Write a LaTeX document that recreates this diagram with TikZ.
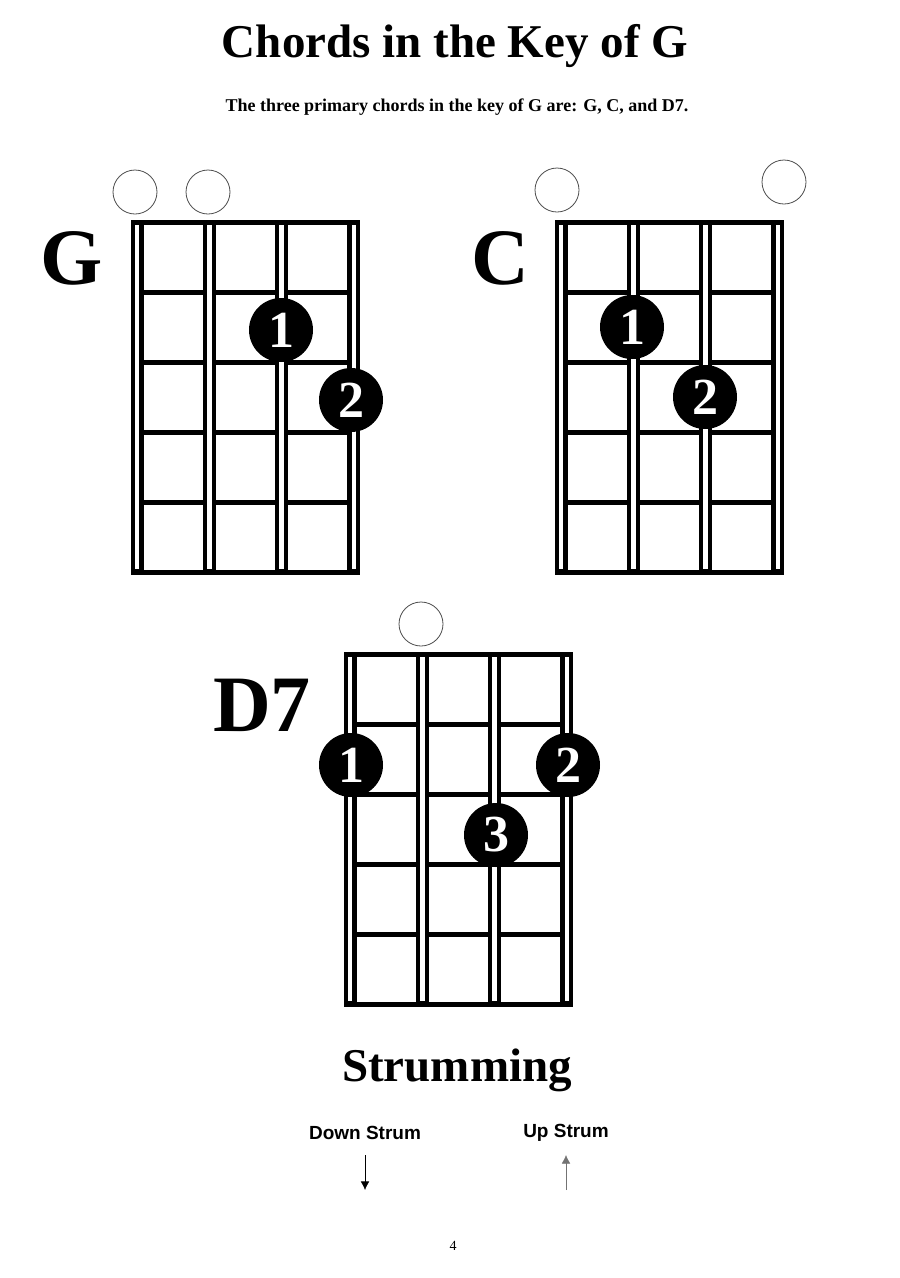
\documentclass[tikz,border=0pt]{standalone}
\usepackage{fontspec}
\setmainfont{Liberation Serif}
\newfontfamily\strumfont{Liberation Sans}
\usetikzlibrary{positioning}
\usetikzlibrary{arrows.meta}
\tikzset{>={Latex[width=2mm,length=2mm]}}

\begin{document}
\begin{tikzpicture}[x=1pt, y=-1pt,
    finger/.style={circle, fill=black, inner sep=0pt, minimum size=64pt, text=white, font=\bfseries\fontsize{52}{52}\selectfont},
    openstr/.style={circle, draw=black!70, thick, fill=white, inner sep=0pt, minimum size=44pt},
    chordname/.style={font=\bfseries\fontsize{80}{80}\selectfont, anchor=center},
    fretline/.style={line width=5pt},
    strumlabel/.style={font=\strumfont\bfseries\fontsize{19}{19}\selectfont}]

    \useasboundingbox (0,0) rectangle (900,1278);

    %Titles
    \node[font=\bfseries\fontsize{47}{47}\selectfont](title) at (455,46){Chords in the Key of G};
    \node[font=\bfseries\fontsize{18}{18}\selectfont](subtitle) at (457,107){The three primary chords in the key of G are: G, C, and D7.};

    %Grids
    \foreach \gx/\gy in {137/222, 561/222, 350/654}{
        \foreach \f in {0,...,5}
            \draw[fretline] (\gx-6,\gy+\f*70) -- (\gx+223,\gy+\f*70);
        \foreach \s in {0,...,3}{
            \draw[line width=13pt] (\gx+\s*72.3,\gy-2) -- (\gx+\s*72.3,\gy+352);
            \draw[line width=4.5pt, white] (\gx+\s*72.3,\gy+3) -- (\gx+\s*72.3,\gy+347);
        }
    }

    %Chord names
    \node[chordname](gname) at (72,258){G};
    \node[chordname](cname) at (500,258){C};
    \node[chordname](dname) at (262,705){D7};

    %Open strings
    \node[openstr](go1) at (135,192){};
    \node[openstr](go2) at (208,192){};
    \node[openstr](co1) at (557,190){};
    \node[openstr](co4) at (784,182){};
    \node[openstr](do2) at (421,624){};

    %Fingers
    \node[finger](g1) at (281,330){1};
    \node[finger](g2) at (351,400){2};
    \node[finger](c1) at (632,327){1};
    \node[finger](c2) at (705,397){2};
    \node[finger](d1) at (351,765){1};
    \node[finger](d2) at (568,765){2};
    \node[finger](d3) at (496,835){3};

    %Strumming
    \node[font=\bfseries\fontsize{47}{47}\selectfont](strumming) at (457,1070){Strumming};
    \node[strumlabel](down) at (365,1133){Down Strum};
    \node[strumlabel](up) at (566,1133){Up Strum};
    \coordinate(downtop) at (365,1155);
    \coordinate(downend) at (365,1190);
    \coordinate(uptop) at (566,1155);
    \coordinate(upend) at (566,1190);
    \draw[-{Latex[width=3mm,length=3mm]}, semithick] (downtop) -- (downend);
    \draw[-{Latex[width=3mm,length=3mm]}, semithick, black!55] (upend) -- (uptop);

    \node[font=\fontsize{14}{14}\selectfont](page) at (453,1246){4};
\end{tikzpicture}
\end{document}
